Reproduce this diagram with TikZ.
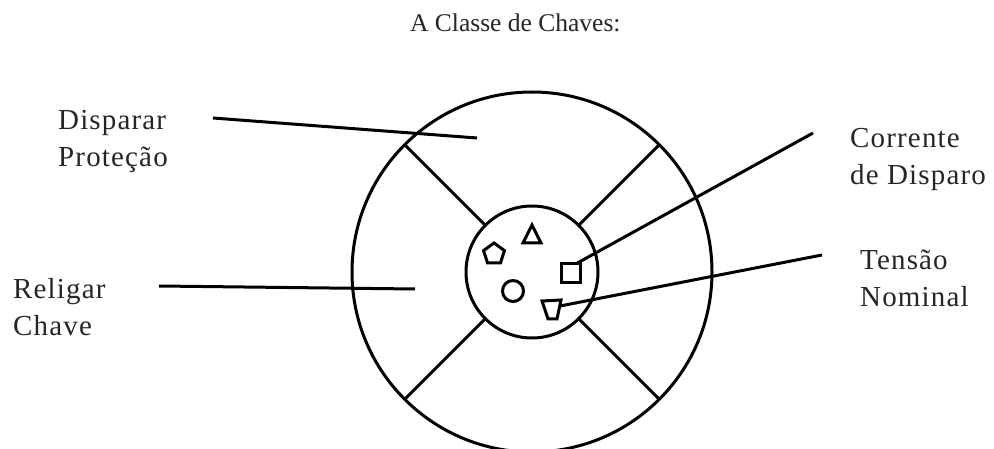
\documentclass[tikz,border=0pt]{standalone}
\usepackage{fontspec}
\setmainfont{Liberation Serif}
\newfontfamily\lblfont[LetterSpace=4]{Liberation Serif}
\usetikzlibrary{shapes.geometric}
\begin{document}
\begin{tikzpicture}[x=1pt,y=-1pt,
  ink/.style={line width=3pt, draw=black},
  ring/.style={ink, circle, inner sep=0pt, outer sep=0pt},
  glyph/.style={ink, inner sep=0pt, outer sep=0pt},
  lbl/.style={inner sep=0pt, anchor=base west, align=left, text=black!85,
    font=\lblfont\fontsize{29}{37}\selectfont},
]
\useasboundingbox[fill=white] (0,0) rectangle (994,449);
% title
\node[inner sep=0pt, anchor=base west, text=black!85,
  font=\fontsize{25.5}{30}\selectfont] (title) at (410,32) {A Classe de Chaves:};
% wheel
\node[ring, minimum size=360pt] (outer) at (532,272) {};
\node[ring, minimum size=132pt] (inner) at (532,272) {};
\foreach \a in {45,135,225,315}{
  \draw[ink] (inner.\a) -- (outer.\a);
}
% symbols in the hub
\coordinate (ta) at (532,225);
\coordinate (tb) at (541,243);
\coordinate (tc) at (523,243);
\draw[ink] (ta) -- (tb) -- (tc) -- cycle;
\node[glyph, regular polygon, regular polygon sides=5, minimum size=22pt] (pent) at (494,254) {};
\node[glyph, circle, minimum size=21pt] (circ) at (513,291) {};
\node[glyph, rectangle, minimum size=19pt] (sq) at (571,273) {};
\coordinate (q1) at (542,301);
\coordinate (q2) at (561,300);
\coordinate (q3) at (557,319);
\coordinate (q4) at (548,319);
\draw[ink] (q1) -- (q2) -- (q3) -- (q4) -- cycle;
\coordinate (qr) at (560,306);
% labels (anchor = baseline of the last line)
\node[lbl] (disp) at (58,167) {Disparar\\Proteção};
\node[lbl] (relig) at (13,335) {Religar\\Chave};
\node[lbl] (corr) at (850,185) {Corrente\\de Disparo};
\node[lbl] (tens) at (860,307) {Tensão\\Nominal};
% leader lines
\coordinate (d1) at (213,118);
\coordinate (d2) at (477,138);
\draw[ink] (d1) -- (d2);
\coordinate (r1) at (159,286);
\coordinate (r2) at (415,289);
\draw[ink] (r1) -- (r2);
\coordinate (c1) at (813,133);
\draw[ink] (c1) -- (sq.60);
\coordinate (n1) at (822,255);
\draw[ink] (n1) -- (qr);
\end{tikzpicture}
\end{document}
